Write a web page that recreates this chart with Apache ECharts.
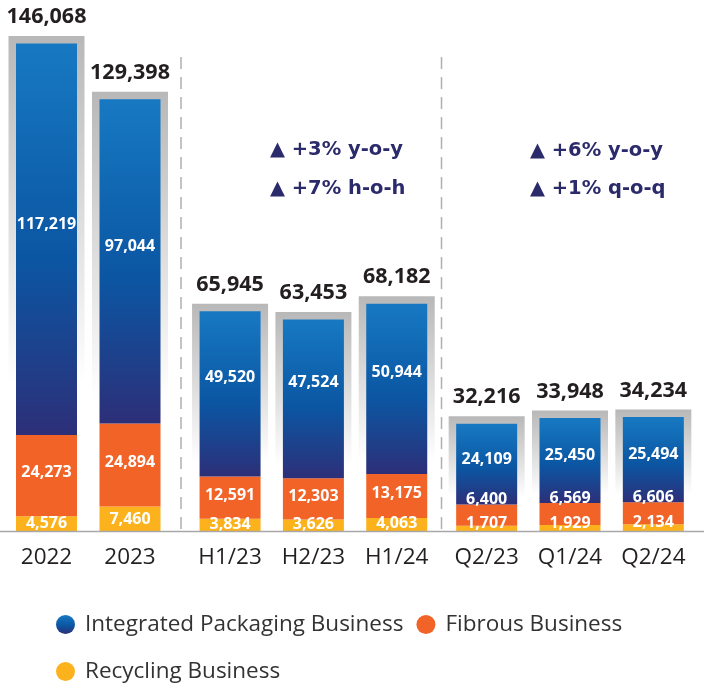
<!DOCTYPE html>
<html><head><meta charset="utf-8">
<script src="https://cdn.jsdelivr.net/npm/echarts@6/dist/echarts.min.js"></script>
<style>html,body{margin:0;padding:0;background:#fff}#c{width:704px;height:683px}</style>
</head><body><div id="c"></div>
<script>
// ---- data ----
const categories = ['2022', '2023', 'H1/23', 'H2/23', 'H1/24', 'Q2/23', 'Q1/24', 'Q2/24'];
const integratedPackaging = [117219, 97044, 49520, 47524, 50944, 24109, 25450, 25494];
const fibrous = [24273, 24894, 12591, 12303, 13175, 6400, 6569, 6606];
const recycling = [4576, 7460, 3834, 3626, 4063, 1707, 1929, 2134];
const totals = [146068, 129398, 65945, 63453, 68182, 32216, 33948, 34234];
const groupRanges = [[0, 2], [2, 5], [5, 8]];
const annotationsH = ['▲ +3% y-o-y', '▲ +7% h-o-h'];
const annotationsQ = ['▲ +6% y-o-y', '▲ +1% q-o-q'];
const seriesNames = ['Integrated Packaging Business', 'Fibrous Business', 'Recycling Business'];

// ---- styles ----
const G = echarts.graphic;
const blueGrad = () => new G.LinearGradient(0, 0, 0, 1, [
  { offset: 0, color: '#1779c2' }, { offset: 0.55, color: '#0b56a3' }, { offset: 1, color: '#2d2f78' }]);
const frameGrad = () => new G.LinearGradient(0, 0, 0, 1, [
  { offset: 0, color: '#b8b8b8' }, { offset: 0.7, color: '#ffffff' }, { offset: 1, color: '#ffffff' }]);
const ORANGE = '#f26328', YELLOW = '#fbb21d';
const fmt = v => Number(v).toLocaleString('en-US');
const BW = 61, PAD = 7.5;
const gridBoxes = [
  { left: 4.75, width: 167 },
  { left: 188.4, width: 250 },
  { left: 445, width: 250 }
];
// label vertical offsets per group: [blue, orange, yellow]
const labelOffsets = [[-15, -3, 0], [-16, -2, -1], [-5, -16, -5]];

const grid = [], xAxis = [], yAxis = [], series = [];
groupRanges.forEach(([a, b], gi) => {
  grid.push({ left: gridBoxes[gi].left, width: gridBoxes[gi].width, top: 30.3, bottom: 151.5 });
  xAxis.push({
    type: 'category', gridIndex: gi, data: categories.slice(a, b),
    axisLine: { show: false }, axisTick: { show: false },
    axisLabel: { interval: 0, margin: 26, verticalAlign: 'middle', fontFamily: 'Open Sans', fontSize: 22.5, color: '#231f20' }
  });
  yAxis.push({ type: 'value', gridIndex: gi, min: 0, max: 150000, show: false, splitLine: { show: false } });

  series.push({
    type: 'custom', xAxisIndex: gi, yAxisIndex: gi, z: 1, silent: true,
    data: totals.slice(a, b).map((v, i) => [i, v]),
    renderItem: (params, api) => {
      const top = api.coord([api.value(0), api.value(1)]);
      const base = api.coord([api.value(0), 0]);
      return {
        type: 'group', children: [
          { type: 'rect', shape: { x: top[0] - BW / 2 - PAD, y: top[1] - PAD, width: BW + 2 * PAD, height: base[1] - top[1] + PAD }, style: { fill: frameGrad() } },
          { type: 'text', style: { text: fmt(api.value(1)), x: top[0], y: top[1] - PAD - 19, align: 'center', verticalAlign: 'middle', font: 'bold 21.5px "Open Sans"', fill: '#231f20' } }
        ]
      };
    }
  });
  const mk = (name, data, color, off) => ({
    name, type: 'bar', stack: 'g' + gi, xAxisIndex: gi, yAxisIndex: gi, z: 2,
    barWidth: BW, data: data.slice(a, b), itemStyle: { color },
    label: { show: true, position: 'inside', offset: [0, off], color: '#fff', fontFamily: 'Open Sans', fontWeight: 'bold', fontSize: 16, formatter: p => fmt(p.value) }
  });
  series.push(mk(seriesNames[2], recycling, YELLOW, labelOffsets[gi][2]));
  series.push(mk(seriesNames[1], fibrous, ORANGE, labelOffsets[gi][1]));
  series.push(mk(seriesNames[0], integratedPackaging, blueGrad(), labelOffsets[gi][0]));
});

const annoStyle = { font: 'bold 19.5px "DejaVu Sans"', fill: '#2b2a6b', verticalAlign: 'middle' };
const graphic = [
  { type: 'line', shape: { x1: 0, y1: 531.5, x2: 704, y2: 531.5 }, style: { stroke: '#a8a8a8', lineWidth: 1.5 }, z: 10 },
  { type: 'line', shape: { x1: 181, y1: 57, x2: 181, y2: 531 }, style: { stroke: '#b0b0b0', lineWidth: 1.5, lineDash: [12, 8] } },
  { type: 'line', shape: { x1: 441.5, y1: 57, x2: 441.5, y2: 531 }, style: { stroke: '#b0b0b0', lineWidth: 1.5, lineDash: [12, 8] } },
  { type: 'text', left: 270, top: 140, style: Object.assign({ text: annotationsH[0] }, annoStyle) },
  { type: 'text', left: 270, top: 179, style: Object.assign({ text: annotationsH[1] }, annoStyle) },
  { type: 'text', left: 530, top: 141, style: Object.assign({ text: annotationsQ[0] }, annoStyle) },
  { type: 'text', left: 530, top: 179, style: Object.assign({ text: annotationsQ[1] }, annoStyle) }
];

const chart = echarts.init(document.getElementById('c'), null, { renderer: 'canvas' });
chart.setOption({
  animation: false,
  backgroundColor: '#fff',
  grid, xAxis, yAxis, series, graphic,
  legend: {
    data: seriesNames, left: 56, top: 607.5, width: 640, padding: 0, orient: 'horizontal',
    icon: 'circle', itemWidth: 19, itemHeight: 19, itemGap: 13, selectedMode: false,
    textStyle: { fontFamily: 'Open Sans', fontSize: 22.5, color: '#333', lineHeight: 34, padding: [0, 0, 0, 5] }
  }
});
</script></body></html>
